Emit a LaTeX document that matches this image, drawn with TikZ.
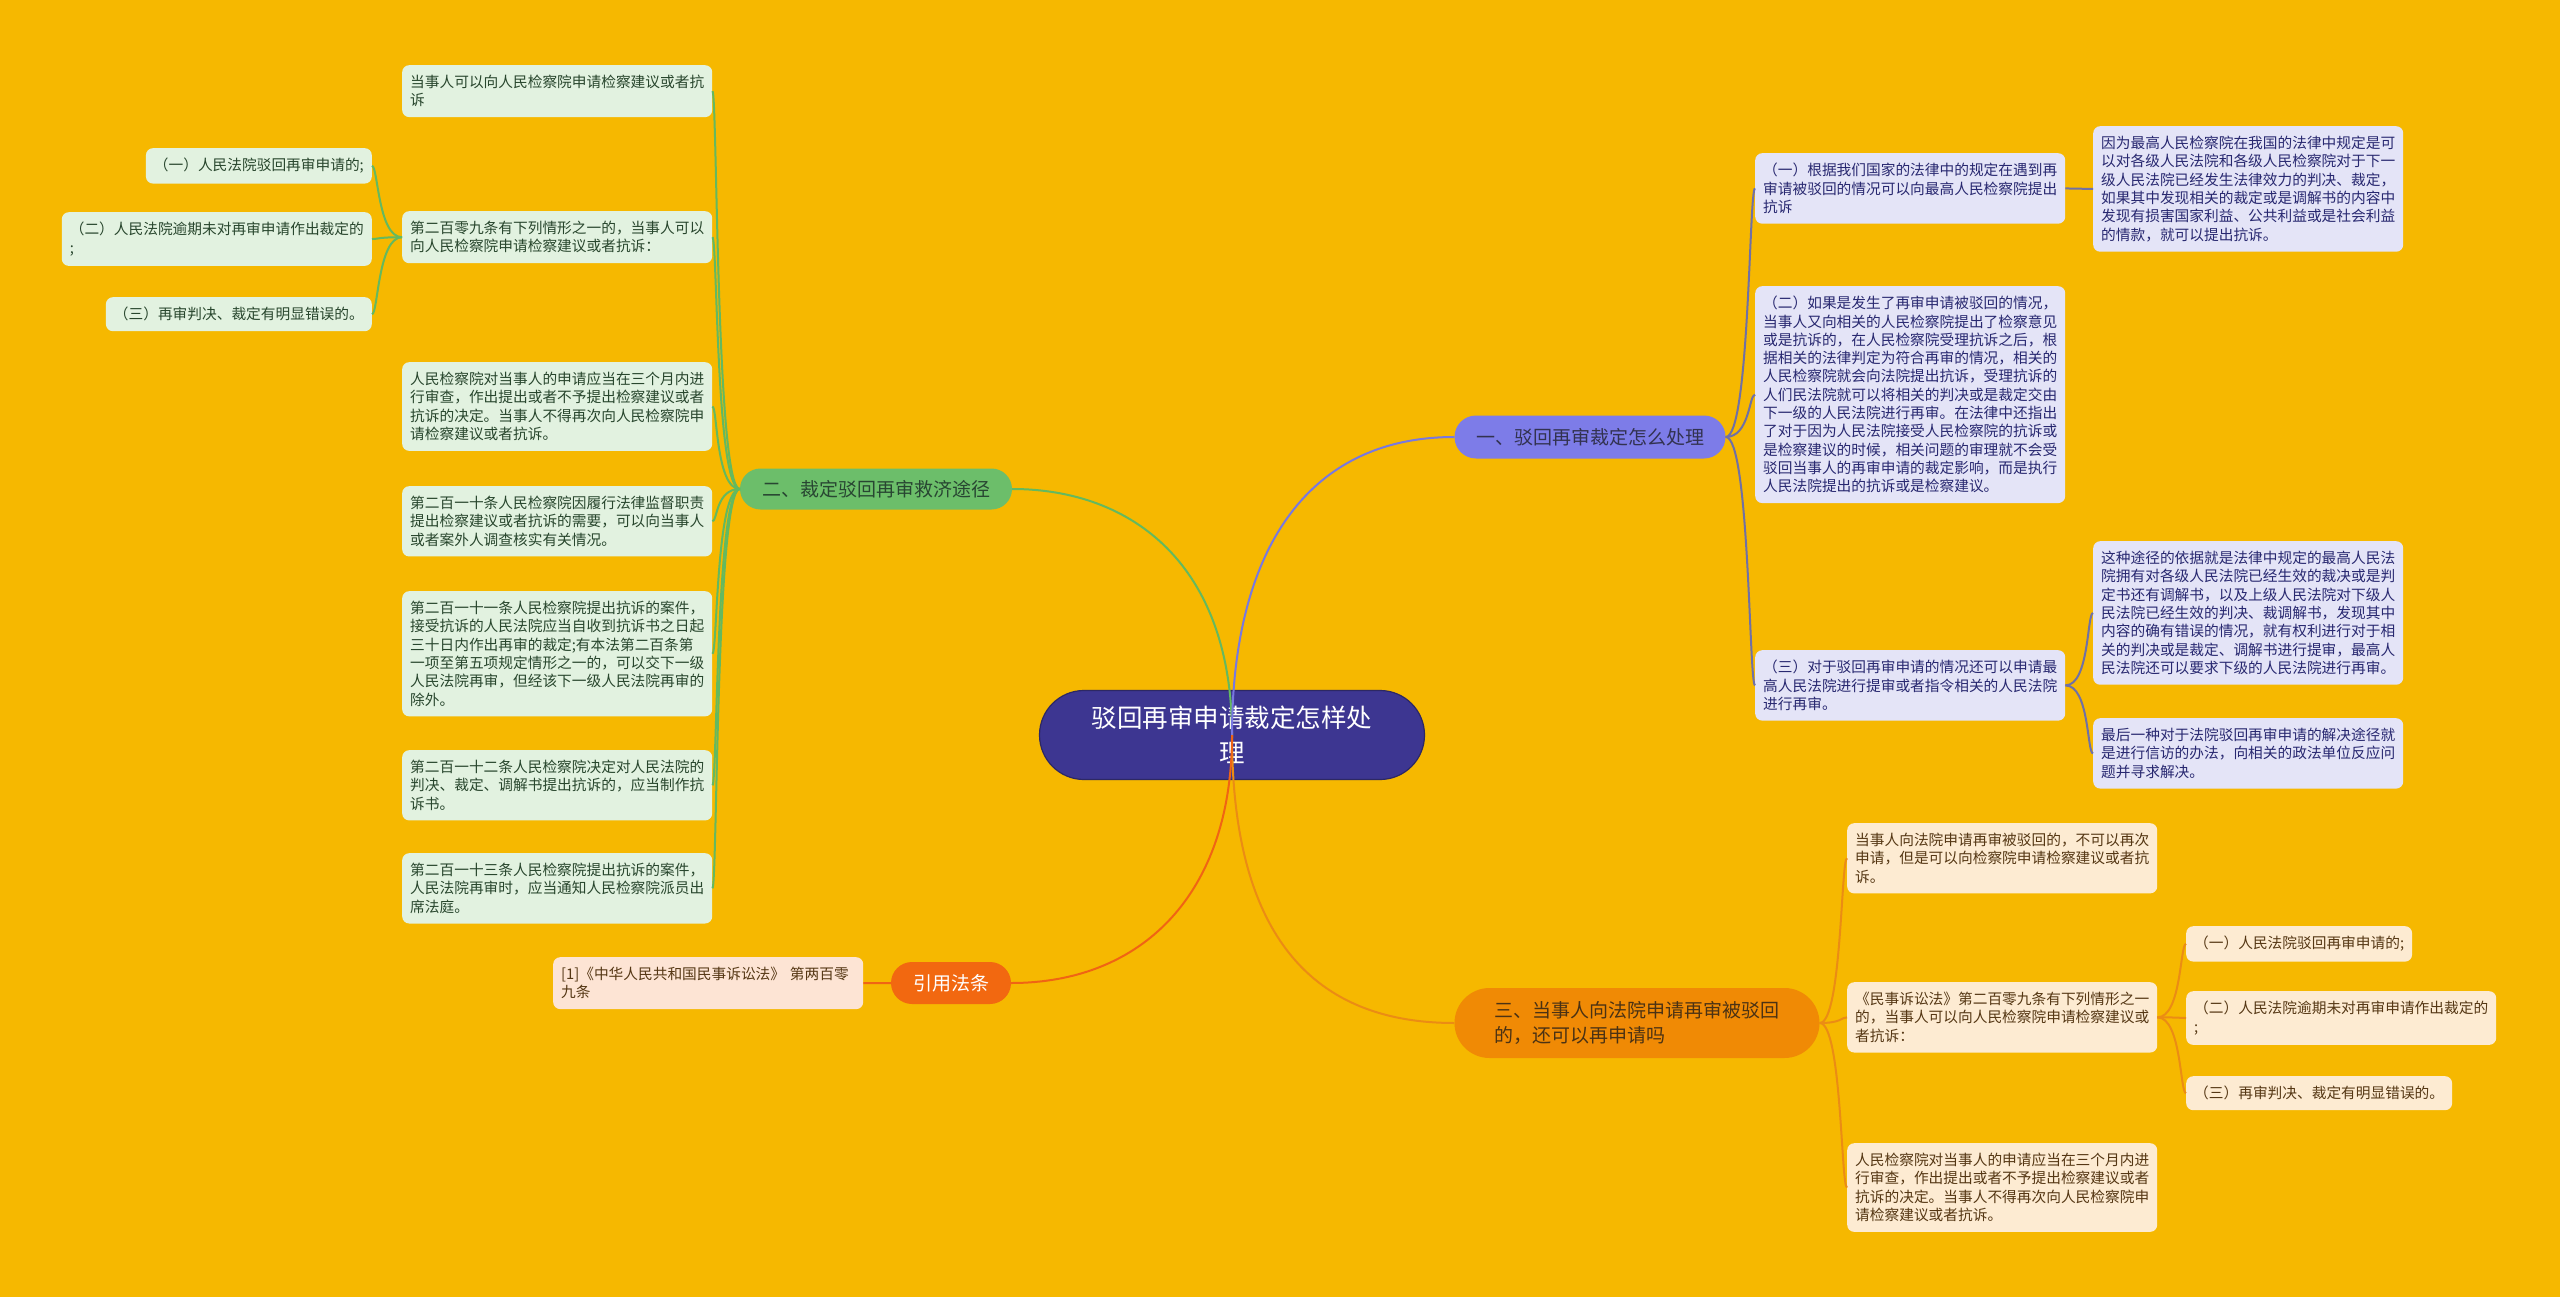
\documentclass[tikz,border=0pt]{standalone}
\usepackage{fontspec}
\setmainfont{Noto Sans CJK SC}
\usetikzlibrary{shapes.misc}
\definecolor{bgc}{RGB}{246,184,0}
\definecolor{cfill}{RGB}{61,54,145}
\definecolor{cdraw}{RGB}{45,40,100}
\definecolor{b1fill}{RGB}{125,124,232}
\definecolor{b2fill}{RGB}{108,190,106}
\definecolor{b3fill}{RGB}{240,138,5}
\definecolor{b4fill}{RGB}{242,104,16}
\definecolor{gfill}{RGB}{226,242,224}
\definecolor{gtext}{RGB}{40,70,45}
\definecolor{pfill}{RGB}{228,228,247}
\definecolor{ptext}{RGB}{40,40,112}
\definecolor{ofill}{RGB}{253,235,210}
\definecolor{otext}{RGB}{85,55,20}
\definecolor{rfill}{RGB}{253,228,212}
\definecolor{gline}{RGB}{100,185,95}
\definecolor{pline}{RGB}{112,112,165}
\definecolor{bline}{RGB}{120,120,225}
\definecolor{oline}{RGB}{235,140,20}
\definecolor{rline}{RGB}{240,100,20}
\begin{document}
\begin{tikzpicture}[x=1pt,y=-1pt,
  leaf/.style={rounded corners=7pt, inner xsep=8pt, inner ysep=10pt, align=left,
    font=\fontsize{14.7}{18.3}\selectfont},
  wleaf/.style={leaf, text width=294pt},
  gleaf/.style={fill=gfill, text=gtext},
  pleaf/.style={fill=pfill, text=ptext},
  oleaf/.style={fill=ofill, text=otext},
  pill/.style={rounded rectangle, inner sep=0pt, font=\fontsize{19}{24.5}\selectfont},
  conn/.style={line width=2pt}
]
\fill[bgc] (0,0) rectangle (2560,1297);
\useasboundingbox (0,0) rectangle (2560,1297);

% center
\node[rounded rectangle, fill=cfill, draw=cdraw, line width=1.2pt, text=white,
  minimum width=385pt, minimum height=89pt, inner sep=0pt, align=center,
  font=\fontsize{25.5}{35}\selectfont] (c) at (1232,735) {驳回再审申请裁定怎样处\\理};

% branches
\node[pill, fill=b1fill, text={rgb,255:red,50;green,50;blue,80}, minimum width=271pt, minimum height=43pt] (b1) at (1590,437) {一、驳回再审裁定怎么处理};
\node[pill, fill=b2fill, text={rgb,255:red,40;green,70;blue,50}, minimum width=272pt, minimum height=41pt] (b2) at (876,489) {二、裁定驳回再审救济途径};
\node[pill, fill=b3fill, text={rgb,255:red,75;green,50;blue,20}, align=left, minimum width=365pt, minimum height=70pt] (b3) at (1637,1023) {三、当事人向法院申请再审被驳回\\的，还可以再申请吗};
\node[pill, fill=b4fill, text=white, minimum width=120pt, minimum height=42pt] (b4) at (951,983) {引用法条};

% left (green) leaves
\node[wleaf, gleaf, anchor=north west] (L1) at (402,65) {当事人可以向人民检察院申请检察建议或者抗\\诉};
\node[wleaf, gleaf, anchor=north west] (L2) at (402,211) {第二百零九条有下列情形之一的，当事人可以\\向人民检察院申请检察建议或者抗诉：};
\node[leaf, gleaf, anchor=north east] (L2a) at (372,148) {（一）人民法院驳回再审申请的;};
\node[wleaf, gleaf, anchor=north east] (L2b) at (372,212) {（二）人民法院逾期未对再审申请作出裁定的\\;};
\node[leaf, gleaf, anchor=north east] (L2c) at (372,297) {（三）再审判决、裁定有明显错误的。};
\node[wleaf, gleaf, anchor=north west] (L3) at (402,362) {人民检察院对当事人的申请应当在三个月内进\\行审查，作出提出或者不予提出检察建议或者\\抗诉的决定。当事人不得再次向人民检察院申\\请检察建议或者抗诉。};
\node[wleaf, gleaf, anchor=north west] (L4) at (402,486) {第二百一十条人民检察院因履行法律监督职责\\提出检察建议或者抗诉的需要，可以向当事人\\或者案外人调查核实有关情况。};
\node[wleaf, gleaf, anchor=north west] (L5) at (402,591) {第二百一十一条人民检察院提出抗诉的案件，\\接受抗诉的人民法院应当自收到抗诉书之日起\\三十日内作出再审的裁定;有本法第二百条第\\一项至第五项规定情形之一的，可以交下一级\\人民法院再审，但经该下一级人民法院再审的\\除外。};
\node[wleaf, gleaf, anchor=north west] (L6) at (402,750) {第二百一十二条人民检察院决定对人民法院的\\判决、裁定、调解书提出抗诉的，应当制作抗\\诉书。};
\node[wleaf, gleaf, anchor=north west] (L7) at (402,853) {第二百一十三条人民检察院提出抗诉的案件，\\人民法院再审时，应当通知人民检察院派员出\\席法庭。};

% citation leaf
\node[wleaf, fill=rfill, text=otext, anchor=north west] (Q1) at (553,957) {[1]《中华人民共和国民事诉讼法》 第两百零\\九条};

% right (purple) leaves
\node[wleaf, pleaf, anchor=north west] (R1) at (1755,153) {（一）根据我们国家的法律中的规定在遇到再\\审请被驳回的情况可以向最高人民检察院提出\\抗诉};
\node[wleaf, pleaf, anchor=north west] (R1a) at (2093,126) {因为最高人民检察院在我国的法律中规定是可\\以对各级人民法院和各级人民检察院对于下一\\级人民法院已经发生法律效力的判决、裁定，\\如果其中发现相关的裁定或是调解书的内容中\\发现有损害国家利益、公共利益或是社会利益\\的情款，就可以提出抗诉。};
\node[wleaf, pleaf, anchor=north west] (R2) at (1755,286) {（二）如果是发生了再审申请被驳回的情况，\\当事人又向相关的人民检察院提出了检察意见\\或是抗诉的，在人民检察院受理抗诉之后，根\\据相关的法律判定为符合再审的情况，相关的\\人民检察院就会向法院提出抗诉，受理抗诉的\\人们民法院就可以将相关的判决或是裁定交由\\下一级的人民法院进行再审。在法律中还指出\\了对于因为人民法院接受人民检察院的抗诉或\\是检察建议的时候，相关问题的审理就不会受\\驳回当事人的再审申请的裁定影响，而是执行\\人民法院提出的抗诉或是检察建议。};
\node[wleaf, pleaf, anchor=north west] (R3) at (1755,650) {（三）对于驳回再审申请的情况还可以申请最\\高人民法院进行提审或者指令相关的人民法院\\进行再审。};
\node[wleaf, pleaf, anchor=north west] (R3a) at (2093,541) {这种途径的依据就是法律中规定的最高人民法\\院拥有对各级人民法院已经生效的裁决或是判\\定书还有调解书，以及上级人民法院对下级人\\民法院已经生效的判决、裁调解书，发现其中\\内容的确有错误的情况，就有权利进行对于相\\关的判决或是裁定、调解书进行提审，最高人\\民法院还可以要求下级的人民法院进行再审。};
\node[wleaf, pleaf, anchor=north west] (R3b) at (2093,718) {最后一种对于法院驳回再审申请的解决途径就\\是进行信访的办法，向相关的政法单位反应问\\题并寻求解决。};

% right lower (orange) leaves
\node[wleaf, oleaf, anchor=north west] (O1) at (1847,823) {当事人向法院申请再审被驳回的，不可以再次\\申请，但是可以向检察院申请检察建议或者抗\\诉。};
\node[wleaf, oleaf, anchor=north west] (O2) at (1847,982) {《民事诉讼法》第二百零九条有下列情形之一\\的，当事人可以向人民检察院申请检察建议或\\者抗诉：};
\node[wleaf, oleaf, anchor=north west] (O3) at (1847,1143) {人民检察院对当事人的申请应当在三个月内进\\行审查，作出提出或者不予提出检察建议或者\\抗诉的决定。当事人不得再次向人民检察院申\\请检察建议或者抗诉。};
\node[leaf, oleaf, anchor=north west] (O2a) at (2186,926) {（一）人民法院驳回再审申请的;};
\node[wleaf, oleaf, anchor=north west] (O2b) at (2186,991) {（二）人民法院逾期未对再审申请作出裁定的\\;};
\node[leaf, oleaf, anchor=north west] (O2c) at (2186,1076) {（三）再审判决、裁定有明显错误的。};

% center to branches
\draw[conn, gline] (c.center) .. controls +(0,-170) and +(120,0) .. (b2.east);
\draw[conn, bline] (c.center) .. controls +(0,-180) and +(-150,0) .. (b1.west);
\draw[conn, oline] (c.center) .. controls +(0,190) and +(-150,0) .. (b3.west);
\draw[conn, rline] (c.center) .. controls +(0,160) and +(130,0) .. (b4.east);

% green connectors
\foreach \n in {L1,L2,L3,L4,L5,L6,L7}
  \draw[conn, gline] (b2.west) .. controls +(-24,0) and +(5,0) .. (\n.east);
\foreach \n in {L2a,L2b,L2c}
  \draw[conn, gline] (L2.west) .. controls +(-24,0) and +(6,0) .. (\n.east);

% citation connector
\draw[conn, rline] (b4.west) -- (Q1.east);

% purple connectors
\foreach \n in {R1,R2,R3}
  \draw[conn, pline] (b1.east) .. controls +(24,0) and +(-6,0) .. (\n.west);
\draw[conn, pline] (R1.east) -- (R1a.west);
\foreach \n in {R3a,R3b}
  \draw[conn, pline] (R3.east) .. controls +(24,0) and +(-6,0) .. (\n.west);

% orange connectors
\foreach \n in {O1,O2,O3}
  \draw[conn, oline] (b3.east) .. controls +(22,0) and +(-6,0) .. (\n.west);
\foreach \n in {O2a,O2b,O2c}
  \draw[conn, oline] (O2.east) .. controls +(24,0) and +(-6,0) .. (\n.west);
\end{tikzpicture}
\end{document}
